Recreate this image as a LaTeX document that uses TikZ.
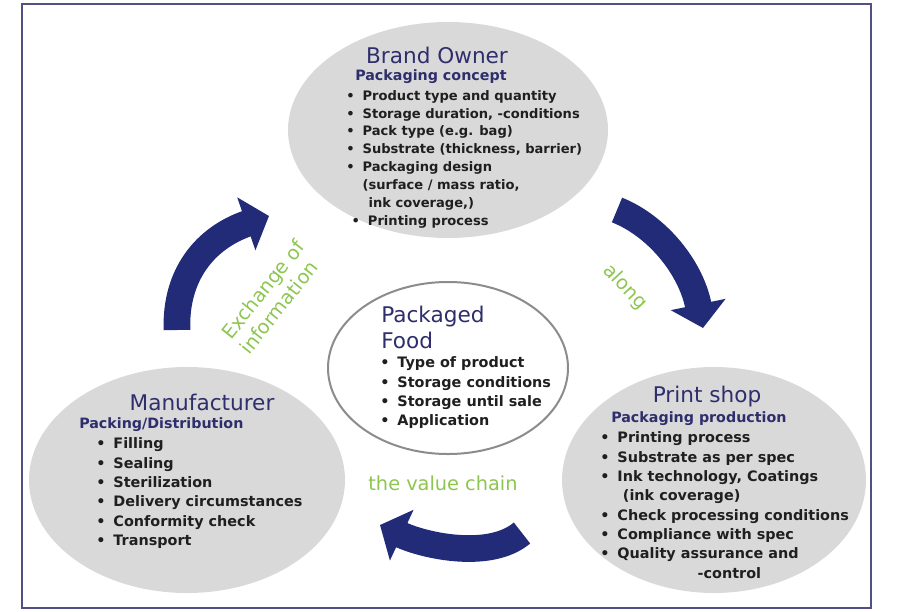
\documentclass[tikz,border=0pt]{standalone}
\usepackage{fontspec}
\setmainfont{DejaVu Sans}
\usepackage{xcolor}
\usetikzlibrary{arrows.meta, shapes.geometric}

\definecolor{navy}{RGB}{33,43,120}
\definecolor{titleblue}{RGB}{46,46,108}
\definecolor{leaf}{RGB}{140,198,80}
\definecolor{blobgray}{RGB}{217,217,217}
\definecolor{framecol}{RGB}{80,80,132}
\newcommand{\itemdot}{\textbullet\hspace{6pt}}

\begin{document}
\begin{tikzpicture}[
  x=0.75pt, y=-0.75pt,
  blob/.style={ellipse, fill=blobgray, inner sep=0pt},
  foodblob/.style={ellipse, draw=black!45, line width=1.5pt, fill=white, inner sep=0pt},
  title/.style={font=\fontsize{16.2}{19.5}\selectfont, text=titleblue, inner sep=0pt},
  subtitle/.style={font=\fontsize{10.7}{13}\selectfont\bfseries, text=titleblue,
                   inner sep=0pt, anchor=west},
  items/.style={font=\fontsize{10.8}{14.5}\selectfont\bfseries, text=black!88,
                align=left, inner sep=0pt, anchor=north west},
  note/.style={font=\fontsize{14.5}{17.5}\selectfont, text=leaf, inner sep=0pt, align=left},
  flow/.style={draw=navy, line width=20pt, -{Triangle[length=18pt, width=41pt]}},
]
  \useasboundingbox (0,0) rectangle (899,611);
  \draw[framecol, line width=1.5pt] (22,4) rectangle (871,608);

  % the four ellipses
  \node[blob, minimum width=240pt, minimum height=162pt] (brand) at (448,130) {};
  \node[blob, minimum width=237pt, minimum height=169.5pt] (maker) at (187,480) {};
  \node[blob, minimum width=228pt, minimum height=169.5pt] (print) at (714,480) {};
  \node[foodblob, minimum width=180pt, minimum height=129pt] (food) at (448,368) {};

  % value chain arrows
  \coordinate (up-from) at (177,330);
  \coordinate (up-to) at (269,216);
  \coordinate (down-from) at (617,210);
  \coordinate (down-to) at (703,328);
  \coordinate (back-from) at (522,533);
  \coordinate (back-to) at (380,525);
  \draw[flow] (up-from) .. controls (175,275) and (205,238) .. (up-to);
  \draw[flow] (down-from) .. controls (655,225) and (690,265) .. (down-to);
  \draw[flow] (back-from) .. controls (490,560) and (425,546) .. (back-to);

  \node[note, rotate=51.5] (exch) at (272,297) {Exchange of\\information};
  \node[note, rotate=-47] (along) at (625,287) {along};
  \node[note] (chain) at (443,483) {the value chain};

  % Brand Owner
  \node[title] (brand-t) at (437,55) {Brand Owner};
  \node[subtitle] (brand-s) at (355,76.5) {Packaging concept};
  \node[items, font=\fontsize{9.8}{13.4}\selectfont\bfseries] (brand-l) at (346,90) {%
    \itemdot Product type and quantity\\
    \itemdot Storage duration, -conditions\\
    \itemdot Pack type (e.g. bag)\\
    \itemdot Substrate (thickness, barrier)\\
    \itemdot Packaging design\\
    \phantom{\itemdot}(surface / mass ratio,\\
    \phantom{\itemdot(}ink coverage,)\\
    \hspace*{4pt}\itemdot Printing process};

  % Manufacturer
  \node[title] (maker-t) at (202,402) {Manufacturer};
  \node[subtitle] (maker-s) at (79,425) {Packing/Distribution};
  \node[items] (maker-l) at (96,437.5) {%
    \itemdot Filling\\
    \itemdot Sealing\\
    \itemdot Sterilization\\
    \itemdot Delivery circumstances\\
    \itemdot Conformity check\\
    \itemdot Transport};

  % Print shop
  \node[title] (print-t) at (707,397) {Print shop};
  \node[subtitle] (print-s) at (611,418.5) {Packaging production};
  \node[items] (print-l) at (600,431.5) {%
    \itemdot Printing process\\
    \itemdot Substrate as per spec\\
    \itemdot Ink technology, Coatings\\
    \hspace*{17pt}(ink coverage)\\
    \itemdot Check processing conditions\\
    \itemdot Compliance with spec\\
    \itemdot Quality assurance and\\
    \hspace*{73pt}-control};

  % Packaged Food
  \node[title, align=left, anchor=north west] (food-t) at (381,305.5) {Packaged\\Food};
  \node[items] (food-l) at (380,356.5) {%
    \itemdot Type of product\\
    \itemdot Storage conditions\\
    \itemdot Storage until sale\\
    \itemdot Application};
\end{tikzpicture}
\end{document}
